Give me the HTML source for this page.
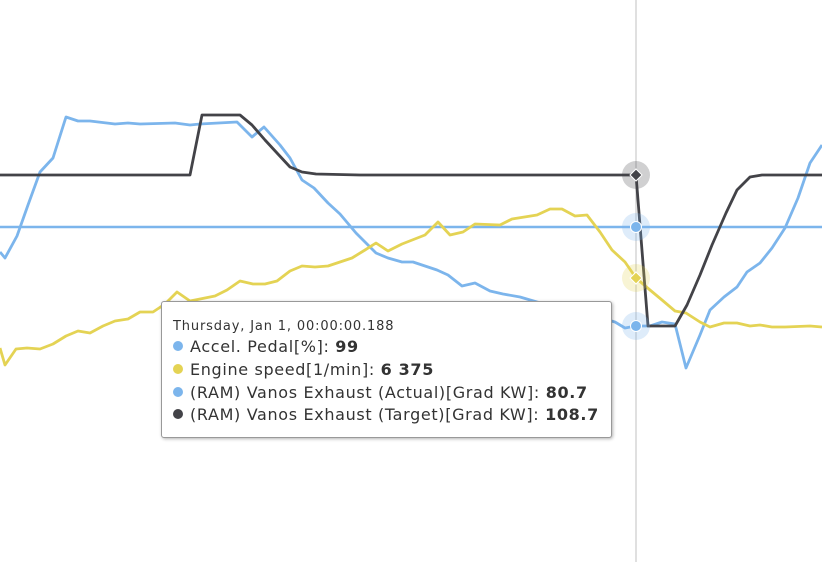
<!DOCTYPE html>
<html><head><meta charset="utf-8"><style>
html,body{margin:0;padding:0;background:#fff;width:822px;height:562px;overflow:hidden;font-family:"DejaVu Sans","Liberation Sans",sans-serif}
.tt{position:absolute;left:161px;top:301px;width:449px;height:135px;background:#fff;border:1px solid #999;border-radius:3px;box-shadow:1px 1px 3px rgba(0,0,0,0.3);color:#333}
.tt .d{position:absolute;left:11px;top:17px;font-size:13px;letter-spacing:0.85px}
.tt .r{position:absolute;left:11px;font-size:16px;white-space:nowrap;letter-spacing:0.65px}
.tt .r i{display:inline-block;width:10px;height:10px;border-radius:50%;margin-right:7px;vertical-align:1px}
.tt b{font-weight:bold}
</style></head><body>
<svg width="822" height="562" style="position:absolute;left:0;top:0">
<line x1="636" y1="0" x2="636" y2="562" stroke="#c0c0c0" stroke-width="1"/>
<line x1="0" y1="227" x2="822" y2="227" stroke="#7cb5ec" stroke-width="2.5"/>
<polyline fill="none" stroke="#7cb5ec" stroke-width="2.8" stroke-linejoin="round" points="0,252 5,258 17,236 28,205 40,172 53,158 66,117 78,121 90,121 115,124 128,123 140,124 175,123 190,125 200,124 237,122 252,137 264,127 280,145 290,158 302,180 314,188 328,203 340,214 356,233 376,253 388,258 402,262 413,262 437,270 448,275 462,286 475,283 490,291 503,294 520,297 537,302 560,308 590,315 615,322 625,328 636,326 650,326 662,322 675,324 686,368 700,335 710,310 724,297 737,287 747,272 760,263 772,248 785,228 798,198 810,163 822,145"/>
<polyline fill="none" stroke="#e4d354" stroke-width="2.8" stroke-linejoin="round" points="0,348 5,365 16,349 27,348 40,349 53,344 66,336 78,331 90,333 103,326 115,321 128,319 140,312 153,312 165,304 177,292 190,301 205,298 215,296 227,290 240,281 253,284 265,284 277,281 290,271 302,266 315,267 328,266 340,262 352,258 365,250 376,243 388,251 402,244 425,235 438,222 450,235 463,232 475,224 500,225 512,219 537,215 550,209 562,209 575,216 587,215 600,232 612,250 625,262 636,278 650,290 662,300 675,311 686,313 700,322 710,327 724,323 737,323 750,326 760,325 772,327 785,327 810,326 822,327"/>
<polyline fill="none" stroke="#434348" stroke-width="2.8" stroke-linejoin="round" points="0,175 190,175 202,115 240,115 252,125 265,140 277,153 290,167 302,172 316,174 360,175 636,175 648,326 675,326 687,305 700,275 712,245 726,213 737,190 750,177 762,175 822,175"/>
<circle cx="636" cy="175" r="14" fill="#434348" opacity="0.25"/>
<polygon points="636,169 642,175 636,181 630,175" fill="#434348" stroke="#fff" stroke-width="1"/>
<circle cx="636" cy="227" r="14" fill="#7cb5ec" opacity="0.25"/>
<circle cx="636" cy="227" r="5.5" fill="#7cb5ec" stroke="#fff" stroke-width="1"/>
<circle cx="636" cy="278" r="14" fill="#e4d354" opacity="0.25"/>
<polygon points="636,272 642,278 636,284 630,278" fill="#e4d354" stroke="#fff" stroke-width="1"/>
<circle cx="636" cy="326" r="14" fill="#7cb5ec" opacity="0.25"/>
<circle cx="636" cy="326" r="5.5" fill="#7cb5ec" stroke="#fff" stroke-width="1"/>
</svg>
<div class="tt">
<div class="d">Thursday, Jan 1, 00:00:00.188</div>
<div class="r" style="top:35px"><i style="background:#7cb5ec"></i>Accel. Pedal[%]: <b>99</b></div>
<div class="r" style="top:58px"><i style="background:#e4d354"></i>Engine speed[1/min]: <b>6 375</b></div>
<div class="r" style="top:81px"><i style="background:#7cb5ec"></i>(RAM) Vanos Exhaust (Actual)[Grad KW]: <b>80.7</b></div>
<div class="r" style="top:103px"><i style="background:#434348"></i>(RAM) Vanos Exhaust (Target)[Grad KW]: <b>108.7</b></div>
</div>
</body></html>
